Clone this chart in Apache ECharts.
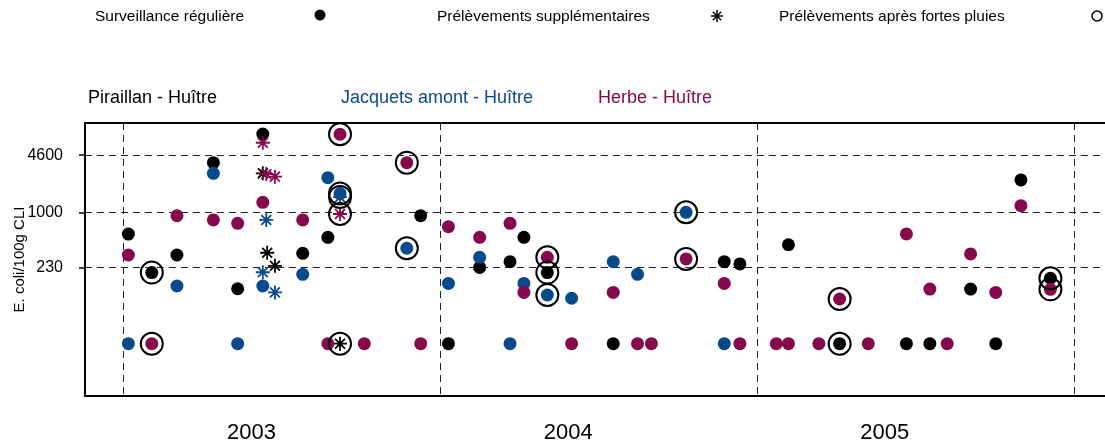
<!DOCTYPE html>
<html>
<head>
<meta charset="utf-8">
<script src="https://cdn.jsdelivr.net/npm/echarts@6/dist/echarts.min.js"></script>
<style>
  html, body { margin: 0; padding: 0; background: #fff; }
  #chart { width: 1105px; height: 447px; }
</style>
</head>
<body>
<div id="chart"></div>
<script>
// point = [date, E. coli /100g CLI, 1 if sampled after heavy rain]
const piraillanRegular = [
  ['2003-01-07', 560, 0], ['2003-02-03', 200, 1], ['2003-03-04', 320, 0], ['2003-04-15', 3760, 0],
  ['2003-05-13', 130, 0], ['2003-06-11', 8070, 0], ['2003-07-27', 335, 0], ['2003-08-25', 513, 0],
  ['2003-12-10', 914, 0], ['2004-01-11', 30, 0], ['2004-02-16', 230, 0], ['2004-03-22', 268, 0],
  ['2004-04-07', 513, 0], ['2004-05-04', 200, 1], ['2004-07-19', 30, 0], ['2004-11-24', 268, 0],
  ['2004-12-12', 252, 0], ['2005-02-06', 421, 0], ['2005-04-06', 30, 1], ['2005-06-22', 30, 0],
  ['2005-07-19', 30, 0], ['2005-09-04', 129, 0], ['2005-10-03', 30, 0], ['2005-11-01', 2370, 0],
  ['2005-12-05', 172, 1]
];
const piraillanExtra = [
  ['2003-06-11', 2830, 0], ['2003-06-16', 340, 0], ['2003-06-25', 240, 0], ['2003-09-08', 30, 1]
];

const jacquetsRegular = [
  ['2003-01-07', 30, 0], ['2003-03-04', 140, 0], ['2003-04-15', 2830, 0], ['2003-05-13', 30, 0],
  ['2003-06-11', 140, 0], ['2003-07-27', 191, 0], ['2003-08-25', 2520, 0], ['2003-09-08', 1650, 1],
  ['2003-11-24', 383, 1], ['2004-01-11', 150, 0], ['2004-02-16', 301, 0], ['2004-03-22', 30, 0],
  ['2004-04-07', 150, 0], ['2004-05-04', 110, 1], ['2004-06-01', 101, 0], ['2004-07-19', 268, 0],
  ['2004-08-16', 191, 0], ['2004-10-11', 1000, 1], ['2004-11-24', 30, 0]
];
const jacquetsExtra = [
  ['2003-06-11', 202, 0], ['2003-06-15', 815, 0], ['2003-06-25', 118, 0], ['2003-09-08', 1500, 1]
];

const herbeRegular = [
  ['2003-01-07', 320, 0], ['2003-02-03', 30, 1], ['2003-03-04', 914, 0], ['2003-04-15', 815, 0],
  ['2003-05-13', 746, 0], ['2003-06-11', 1306, 0], ['2003-07-27', 815, 0], ['2003-08-25', 30, 0],
  ['2003-09-08', 8020, 1], ['2003-10-06', 30, 0], ['2003-11-24', 3760, 1], ['2003-12-10', 30, 0],
  ['2004-01-11', 681, 0], ['2004-02-16', 513, 0], ['2004-03-22', 746, 0], ['2004-04-07', 118, 0],
  ['2004-05-04', 301, 1], ['2004-06-01', 30, 0], ['2004-07-19', 118, 0], ['2004-08-16', 30, 0],
  ['2004-09-01', 30, 0], ['2004-10-11', 288, 1], ['2004-11-24', 150, 0], ['2004-12-12', 30, 0],
  ['2005-01-23', 30, 0], ['2005-02-06', 30, 0], ['2005-03-13', 30, 0], ['2005-04-06', 99, 1],
  ['2005-05-09', 30, 0], ['2005-06-22', 561, 0], ['2005-07-19', 129, 0], ['2005-08-08', 30, 0],
  ['2005-09-04', 329, 0], ['2005-10-03', 118, 0], ['2005-11-01', 1193, 0], ['2005-12-05', 128, 1]
];
const herbeExtra = [
  ['2003-06-11', 6400, 0], ['2003-06-15', 2780, 0], ['2003-06-25', 2590, 0], ['2003-09-08', 956, 1]
];

const yTicks = [230, 1000, 4600];
const yearLines = ['2003-01-01', '2004-01-01', '2005-01-01', '2006-01-01'];
const yearLabels = ['2003-05-29', '2004-05-28', '2005-05-28'];

const BLACK = '#000000';
const BLUE = '#0a4a8c';
const MAGENTA = '#860a4b';
const FONT = 'Liberation Sans, Arial, sans-serif';
const ASTERISK = 'path://M0,-1L0,1M-1,0L1,0M-0.7071,-0.7071L0.7071,0.7071M-0.7071,0.7071L0.7071,-0.7071';

const ms = d => Date.parse(d);

function xy(points) {
  return points.map(p => [ms(p[0]), p[1]]);
}

function dots(points, color) {
  return {
    type: 'scatter', data: xy(points), symbol: 'circle', symbolSize: 13,
    itemStyle: { color: color, opacity: 1 }, z: 3, silent: true
  };
}

function stars(points, color) {
  return {
    type: 'scatter', data: xy(points), symbol: ASTERISK, symbolSize: 14,
    itemStyle: { color: 'none', borderColor: color, borderWidth: 1.8, opacity: 1 }, z: 3, silent: true
  };
}

// black ring round every sample taken after heavy rain
const rainPoints = [].concat(piraillanRegular, piraillanExtra, jacquetsRegular, jacquetsExtra, herbeRegular, herbeExtra)
  .filter(p => p[2] === 1);

// legend drawn by hand: text first, its mark far to the right
function legendText(x, text) {
  return {
    type: 'text', x: x, y: 17,
    style: { text: text, fill: BLACK, fontSize: 15.5, fontFamily: FONT, textVerticalAlign: 'middle' }
  };
}
function starLine(cx, cy, dx, dy) {
  return {
    type: 'line', shape: { x1: cx - dx, y1: cy - dy, x2: cx + dx, y2: cy + dy },
    style: { stroke: BLACK, lineWidth: 1.5 }
  };
}

const chart = echarts.init(document.getElementById('chart'));

chart.setOption({
  animation: false,
  textStyle: { fontFamily: FONT },
  title: [
    { text: 'Piraillan - Huître', left: 88, top: 89, padding: 0, textStyle: { color: BLACK, fontSize: 18, fontWeight: 'normal', fontFamily: FONT } },
    { text: 'Jacquets amont - Huître', left: 341, top: 89, padding: 0, textStyle: { color: BLUE, fontSize: 18, fontWeight: 'normal', fontFamily: FONT } },
    { text: 'Herbe - Huître', left: 598, top: 89, padding: 0, textStyle: { color: MAGENTA, fontSize: 18, fontWeight: 'normal', fontFamily: FONT } }
  ],
  graphic: [
    legendText(95, 'Surveillance régulière'),
    { type: 'circle', shape: { cx: 320, cy: 15, r: 5.5 }, style: { fill: BLACK } },
    legendText(437, 'Prélèvements supplémentaires'),
    starLine(717, 16, 0, 6), starLine(717, 16, 6, 0), starLine(717, 16, 4.2, 4.2), starLine(717, 16, 4.2, -4.2),
    legendText(779, 'Prélèvements après fortes pluies'),
    { type: 'circle', shape: { cx: 1097, cy: 16, r: 5 }, style: { fill: 'none', stroke: BLACK, lineWidth: 1.5 } }
  ],
  grid: {
    left: 85, top: 123, right: -7, bottom: 51,
    containLabel: false,
    outerBoundsMode: 'none',
    show: true, borderColor: BLACK, borderWidth: 2, backgroundColor: 'transparent'
  },
  xAxis: {
    type: 'value',
    min: ms('2002-11-18'),
    max: ms('2006-02-14'),
    axisLine: { show: true, lineStyle: { color: BLACK, width: 2 } },
    axisTick: { show: false, customValues: yearLines.map(ms) },
    splitLine: { show: true, lineStyle: { color: '#222', width: 1, type: [7, 5] } },
    axisLabel: {
      customValues: yearLabels.map(ms),
      margin: 26,
      fontSize: 22,
      color: BLACK,
      fontFamily: FONT,
      formatter: v => String(new Date(v).getUTCFullYear())
    }
  },
  yAxis: {
    type: 'log',
    logBase: 10,
    min: 7.435,
    max: 10834,
    name: 'E. coli/100g CLI',
    nameLocation: 'middle',
    nameGap: 58,
    nameMoveOverlap: false,
    nameTextStyle: { fontSize: 15, color: BLACK, fontFamily: FONT },
    axisLine: { show: true, lineStyle: { color: BLACK, width: 2 } },
    axisTick: { show: true, length: 6, customValues: yTicks, lineStyle: { color: BLACK, width: 1.5 } },
    splitLine: { show: true, lineStyle: { color: '#222', width: 1, type: [7, 5] } },
    axisLabel: {
      customValues: yTicks,
      margin: 22,
      fontSize: 16,
      color: BLACK,
      fontFamily: FONT,
      formatter: v => String(Math.round(v))
    }
  },
  series: [
    dots(piraillanRegular, BLACK),
    stars(piraillanExtra, BLACK),
    dots(jacquetsRegular, BLUE),
    stars(jacquetsExtra, BLUE),
    dots(herbeRegular, MAGENTA),
    stars(herbeExtra, MAGENTA),
    {
      type: 'scatter', data: xy(rainPoints), symbol: 'circle', symbolSize: 22,
      itemStyle: { color: 'none', borderColor: BLACK, borderWidth: 2, opacity: 1 }, z: 4, silent: true
    }
  ]
});
</script>
</body>
</html>
